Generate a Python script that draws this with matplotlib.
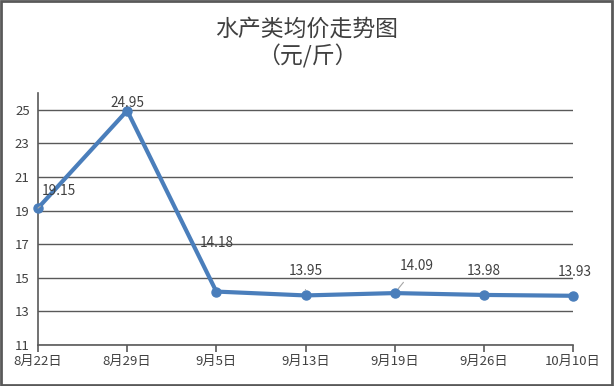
import matplotlib.pyplot as plt
from matplotlib.patches import Rectangle

plt.rcParams["font.family"] = ["Noto Sans CJK SC", "DejaVu Sans"]

dates = ["8月22日", "8月29日", "9月5日", "9月13日", "9月19日", "9月26日", "10月10日"]
prices = [19.15, 24.95, 14.18, 13.95, 14.09, 13.98, 13.93]
# label offsets in pixels (dx, dy) and whether a leader line is drawn
label_offsets = [(21, 17), (0, 8), (0, 49), (0, 24), (22, 27), (0, 24), (2, 24)]
leaders = [True, False, False, True, True, False, False]
yticks = [11, 13, 15, 17, 19, 21, 23, 25]

TEXT = "#404040"
LINE = "#4a7ebb"
GRID = "#595959"

fig = plt.figure(figsize=(6.14, 3.86), dpi=100)
fig.patches.append(Rectangle((0.002, 0.003), 0.994, 0.994, transform=fig.transFigure,
                             fill=False, edgecolor="#595959", linewidth=2))

ax = fig.add_axes([38 / 614, 1 - 345 / 386, (573 - 38) / 614, (345 - 93) / 386])
x = list(range(len(dates)))
ax.plot(x, prices, color=LINE, linewidth=3, marker="o", markersize=6.5, zorder=3, clip_on=False)

for xi, yi, (dx, dy), lead in zip(x, prices, label_offsets, leaders):
    props = None
    if lead:
        props = dict(arrowstyle="-", color="#a6a6a6", lw=0.8, shrinkA=6, shrinkB=4)
    ax.annotate(f"{yi:.2f}", xy=(xi, yi), xytext=(dx, dy), textcoords="offset pixels",
                ha="center", va="center", fontsize=9.8, color=TEXT,
                arrowprops=props, zorder=4)

ax.set_xlim(0, len(dates) - 1)
ax.set_ylim(11, 26)
ax.set_yticks(yticks)
ax.set_xticks(x)
ax.set_xticklabels(dates)
ax.yaxis.grid(True, color=GRID, linewidth=1)
ax.set_axisbelow(True)
for s in ["top", "right"]:
    ax.spines[s].set_visible(False)
for s in ["left", "bottom"]:
    ax.spines[s].set_color(GRID)
    ax.spines[s].set_linewidth(1.2)
ax.tick_params(axis="y", length=0, labelsize=9.5, labelcolor=TEXT, pad=6)
ax.tick_params(axis="x", length=5, width=1.2, color=GRID, labelsize=9.5, labelcolor=TEXT, pad=2)

fig.text(0.5, 1 - 29 / 386, "水产类均价走势图", ha="center", va="center", fontsize=16.5,
         fontweight="medium", color=TEXT)
fig.text(0.5, 1 - 56 / 386, "（元/斤）", ha="center", va="center", fontsize=16.5,
         fontweight="medium", color=TEXT)

fig.savefig("out.png", dpi=100)
